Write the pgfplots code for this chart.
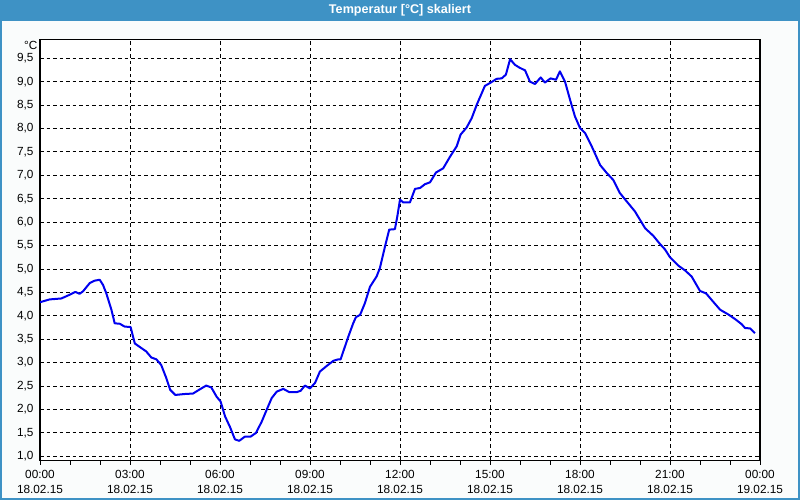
\documentclass[border=0pt]{standalone}
\usepackage{pgfplots}
\pgfplotsset{compat=1.18}
\usepackage{fontspec}
\setmainfont{Liberation Sans}
\definecolor{titleblue}{RGB}{62,146,197}
\definecolor{bgc}{RGB}{250,252,252}
\definecolor{curve}{RGB}{0,0,240}
\begin{document}
\begin{tikzpicture}[x=1pt,y=1pt]
\useasboundingbox (0,0) rectangle (800,500);
\fill[bgc] (0,0) rectangle (800,500);
\fill[titleblue] (0,479) rectangle (800,500);
\draw[titleblue,line width=2pt] (1,1) rectangle (799,499);
\node[text=white,font=\fontsize{12.6}{14}\selectfont\bfseries] at (400,489.5) {Temperatur [°C] skaliert};
\node[anchor=east,font=\fontsize{11.8}{13}\selectfont,inner sep=0pt] at (37.5,455) {°C};
\begin{axis}[
  at={(40pt,39.3pt)}, anchor=south west,
  scale only axis, width=720pt, height=421.2pt,
  xmin=0, xmax=24, ymin=0.906, ymax=9.9,
  axis background/.style={fill=white},
  xtick={0,3,...,24},
  minor xtick={1,2,4,5,7,8,10,11,13,14,16,17,19,20,22,23},
  xticklabels={{00:00\\18.02.15},{03:00\\18.02.15},{06:00\\18.02.15},{09:00\\18.02.15},{12:00\\18.02.15},{15:00\\18.02.15},{18:00\\18.02.15},{21:00\\18.02.15},{00:00\\19.02.15}},
  xticklabel style={align=center,font=\fontsize{11.8}{14.5}\selectfont,yshift=-2.5pt},
  ytick={1,1.5,...,9.5},
  yticklabel style={font=\fontsize{11.8}{13}\selectfont,xshift=1pt},
  /pgf/number format/assume math mode=true,
  yticklabel={\pgfmathprintnumber[use comma,fixed,fixed zerofill,precision=1]{\tick}},
  xtick pos=bottom, ytick pos=left,
  tick align=outside,
  major tick length=4pt, minor tick length=4pt,
  ytick style={draw=none},
  tick style={black,line width=0.8pt},
  grid=major,
  major grid style={black,line width=0.9pt,dash pattern=on 3.5pt off 3pt},
  axis line style={black,line width=1.2pt},
]
\addplot[curve,line width=2pt,line join=round] coordinates {
(0.0,4.29)(0.32,4.35)(0.71,4.37)(0.99,4.45)(1.18,4.51)(1.32,4.47)(1.43,4.52)(1.66,4.70)(1.82,4.75)(1.99,4.77)
(2.10,4.66)(2.21,4.48)(2.38,4.13)(2.49,3.84)(2.66,3.83)(2.82,3.77)(3.02,3.76)(3.16,3.41)(3.38,3.31)(3.54,3.24)
(3.71,3.11)(3.88,3.07)(4.04,2.95)(4.21,2.67)(4.34,2.42)(4.51,2.31)(4.82,2.33)(5.10,2.34)(5.38,2.45)(5.54,2.51)
(5.71,2.47)(5.89,2.27)(6.02,2.17)(6.17,1.85)(6.33,1.63)(6.50,1.36)(6.64,1.33)(6.83,1.42)(7.02,1.42)(7.20,1.50)
(7.39,1.74)(7.58,2.03)(7.72,2.24)(7.89,2.38)(8.11,2.44)(8.31,2.37)(8.56,2.37)(8.69,2.40)(8.83,2.51)(9.00,2.45)
(9.17,2.57)(9.33,2.81)(9.56,2.93)(9.78,3.04)(9.94,3.07)(10.02,3.07)(10.11,3.24)(10.28,3.56)(10.44,3.84)(10.53,3.97)
(10.67,4.02)(10.83,4.27)(11.00,4.62)(11.22,4.84)(11.33,5.02)(11.50,5.48)(11.64,5.84)(11.83,5.85)(11.91,6.12)(12.00,6.48)
(12.11,6.42)(12.33,6.42)(12.50,6.71)(12.67,6.73)(12.83,6.81)(13.00,6.85)(13.20,7.06)(13.44,7.15)(13.67,7.40)(13.89,7.62)
(14.02,7.87)(14.22,8.02)(14.39,8.22)(14.56,8.51)(14.83,8.91)(15.00,8.97)(15.22,9.06)(15.39,9.07)(15.53,9.15)(15.67,9.48)
(15.83,9.36)(15.98,9.30)(16.17,9.24)(16.33,9.00)(16.50,8.95)(16.69,9.09)(16.83,8.98)(17.02,9.07)(17.20,9.04)(17.33,9.22)
(17.50,9.00)(17.67,8.61)(17.83,8.26)(18.00,8.01)(18.17,7.90)(18.39,7.62)(18.67,7.22)(18.89,7.05)(19.11,6.90)(19.33,6.62)
(19.56,6.44)(19.83,6.23)(20.00,6.05)(20.17,5.87)(20.44,5.71)(20.67,5.53)(20.83,5.42)(21.00,5.25)(21.28,5.07)(21.50,4.97)
(21.72,4.84)(22.00,4.53)(22.20,4.48)(22.44,4.30)(22.67,4.13)(22.94,4.03)(23.17,3.93)(23.39,3.82)(23.50,3.74)(23.67,3.73)
(23.83,3.63)
};
\end{axis}
\end{tikzpicture}
\end{document}
